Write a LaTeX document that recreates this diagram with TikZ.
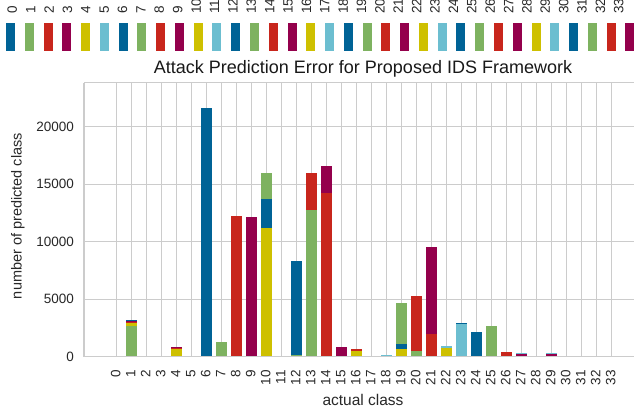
\documentclass[tikz,border=0pt]{standalone}
\usepackage{fontspec}
\setmainfont{Liberation Sans}
\definecolor{cblue}{RGB}{0,99,150}
\definecolor{cgreen}{RGB}{126,178,96}
\definecolor{cred}{RGB}{200,38,28}
\definecolor{cmaroon}{RGB}{148,0,76}
\definecolor{cyellow}{RGB}{206,192,0}
\definecolor{clight}{RGB}{108,190,208}
\definecolor{gridgray}{RGB}{204,204,204}
\definecolor{txt}{RGB}{40,40,40}
% one stacked segment: class, lower count, upper count (both in hundreds), colour
\newcommand\seg[4]{\fill[#4]
  ({116.7+15*#1-5.75},{356.7-1.15*#2}) rectangle ({116.7+15*#1+5.75},{356.7-1.15*#3});}
\begin{document}
\begin{tikzpicture}[x=1pt,y=-1pt,
  gridline/.style={draw=gridgray, line width=1.2pt},
  ticklabel/.style={font=\fontsize{13.5}{15}\selectfont, text=txt, inner sep=0pt},
  legendpatch/.style={minimum width=9pt, minimum height=28pt, inner sep=0pt, draw=none}]
\useasboundingbox (0,0) rectangle (634,410);
\fill[white] (0,0) rectangle (634,410);

% grid
\foreach \k in {0,...,4} \draw[gridline] (84,{356.7-57.5*\k}) -- (634,{356.7-57.5*\k});
\draw[gridline] (84,82.7) -- (634,82.7);
\foreach \c in {0,...,33} \draw[gridline] ({116.7+15*\c},82.7) -- ({116.7+15*\c},356.7);
\draw[gridline] (84,82.7) -- (84,356.7);

% stacked bars (counts in hundreds)
\seg{1}{0}{27}{cgreen}\seg{1}{27}{29}{cyellow}\seg{1}{29}{30}{cred}
\seg{1}{30}{30.8}{cmaroon}\seg{1}{30.8}{31.7}{cblue}
\seg{4}{0}{7.4}{cyellow}\seg{4}{7.4}{8}{cred}\seg{4}{8}{8.7}{cmaroon}
\seg{5}{0}{0.4}{clight}
\seg{6}{0}{216}{cblue}
\seg{7}{0}{13}{cgreen}
\seg{8}{0}{122.6}{cred}
\seg{9}{0}{121.8}{cmaroon}
\seg{10}{0}{112.2}{cyellow}\seg{10}{112.2}{136.9}{cblue}\seg{10}{136.9}{159.8}{cgreen}
\seg{11}{0}{0.4}{clight}
\seg{12}{0}{0.8}{cyellow}\seg{12}{0.8}{1.8}{cgreen}\seg{12}{1.8}{83}{cblue}
\seg{13}{0}{128}{cgreen}\seg{13}{128}{159.8}{cred}
\seg{14}{0}{142}{cred}\seg{14}{142}{165.6}{cmaroon}
\seg{15}{0}{8.7}{cmaroon}
\seg{16}{0}{5.2}{cyellow}\seg{16}{5.2}{7}{cred}
\seg{18}{0}{1}{cblue}\seg{18}{1}{1.9}{clight}
\seg{19}{0}{6.4}{cyellow}\seg{19}{6.4}{10.8}{cblue}\seg{19}{10.8}{47}{cgreen}
\seg{20}{0}{5}{cgreen}\seg{20}{5}{52.8}{cred}
\seg{21}{0}{20}{cred}\seg{21}{20}{95.4}{cmaroon}
\seg{22}{0}{8}{cyellow}\seg{22}{8}{9}{clight}
\seg{23}{0}{28.2}{clight}\seg{23}{28.2}{29.3}{cblue}
\seg{24}{0}{21.8}{cblue}
\seg{25}{0}{26.7}{cgreen}
\seg{26}{0}{4.1}{cred}
\seg{27}{0}{2.2}{cmaroon}\seg{27}{2.2}{2.9}{clight}
\seg{29}{0}{2.2}{cmaroon}\seg{29}{2.2}{2.9}{clight}
\seg{32}{0}{0.4}{cred!40}

% bottom spine
\draw[gridline] (84,356.7) -- (634,356.7);

% y tick labels
\foreach \k/\v in {0/0,1/5000,2/10000,3/15000,4/20000}
  \node[ticklabel, anchor=east] (yt\k) at (74,{356.7-57.5*\k}) {\v};
% x tick labels
\foreach \c in {0,...,33}
  \node[ticklabel, rotate=90, anchor=east] (xt\c) at ({115.7+15*\c},370) {\c};

% axis labels and title
\node[font=\fontsize{15.5}{17}\selectfont, text=txt] (xlab) at (363,400) {actual class};
\node[font=\fontsize{14.5}{16}\selectfont, text=txt, rotate=90] (ylab) at (18,216) {number of predicted class};
\node[font=\fontsize{18}{20}\selectfont, text=black!90] (title) at (363,69) {Attack Prediction Error for Proposed IDS Framework};

% legend
\foreach \c/\col in {0/cblue,1/cgreen,2/cred,3/cmaroon,4/cyellow,5/clight,
  6/cblue,7/cgreen,8/cred,9/cmaroon,10/cyellow,11/clight,
  12/cblue,13/cgreen,14/cred,15/cmaroon,16/cyellow,17/clight,
  18/cblue,19/cgreen,20/cred,21/cmaroon,22/cyellow,23/clight,
  24/cblue,25/cgreen,26/cred,27/cmaroon,28/cyellow,29/clight,
  30/cblue,31/cgreen,32/cred,33/cmaroon}{
  \node[legendpatch, fill=\col] (lg\c) at ({10.5+18.77*\c},37) {};
  \node[ticklabel, rotate=90, anchor=west] (lt\c) at ({12.3+18.38*\c},14) {\c};
}
\end{tikzpicture}
\end{document}
